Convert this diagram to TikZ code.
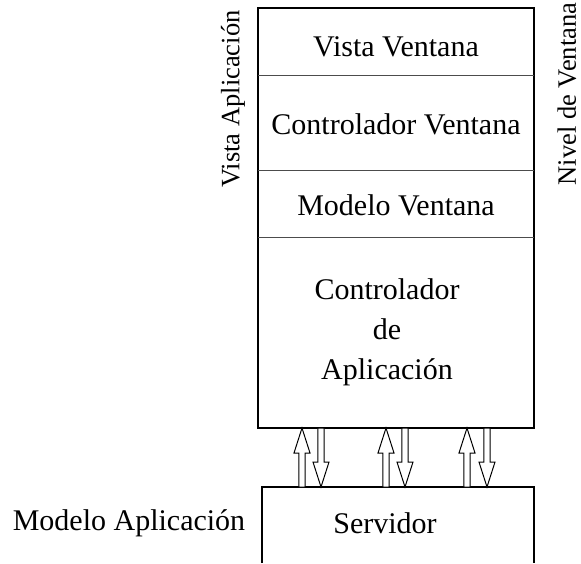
\documentclass[tikz,border=0pt]{standalone}
\usepackage{fontspec}
\setmainfont{Liberation Serif}
\begin{document}
\begin{tikzpicture}[x=1pt,y=-1pt,
  lbl/.style={font=\fontsize{30}{40}\selectfont, inner sep=0pt, align=center},
  side/.style={font=\fontsize{26.5}{30}\selectfont, inner sep=0pt, rotate=90},
  boxline/.style={line width=1.2pt, draw=black},
  divline/.style={line width=1pt, draw=black!70},
  arr/.style={line width=1pt, draw=black, fill=white},
  uparr/.pic={\path[arr] (0,0) -- (8,25) -- (3.2,25) -- (3.2,59) -- (-3.2,59) -- (-3.2,25) -- (-8,25) -- cycle;},
  downarr/.pic={\path[arr] (0,59) -- (8,34) -- (3.2,34) -- (3.2,0) -- (-3.2,0) -- (-3.2,34) -- (-8,34) -- cycle;}
]
\useasboundingbox (0,0) rectangle (581,563);
% upper stack
\coordinate (tl) at (258,8);
\coordinate (br) at (534,428);
\draw[boxline] (tl) rectangle (br);
\draw[divline] (258,75) -- (534,75);
\draw[divline] (258,170) -- (534,170);
\draw[divline] (258,237) -- (534,237);
\node[lbl] (vv) at (396,47) {Vista Ventana};
\node[lbl] (cv) at (396,124) {Controlador Ventana};
\node[lbl] (mv) at (396,205) {Modelo Ventana};
\node[lbl] (ca) at (387,332) {Controlador\\de\\Aplicación};
% server
\draw[boxline] (262,563) -- (262,487) -- (534,487) -- (534,563);
\node[lbl] (srv) at (385,523) {Servidor};
\node[lbl] (ma) at (129,523) {Modelo Aplicación};
% side labels
\node[side] (va) at (233,99) {Vista Aplicación};
\node[side] (nv) at (567,94) {Nivel de Ventana};
% arrows
\pic at (302,428) {uparr};
\pic at (321,428) {downarr};
\pic at (386,428) {uparr};
\pic at (405,428) {downarr};
\pic at (467,428) {uparr};
\pic at (487,428) {downarr};
\end{tikzpicture}
\end{document}
